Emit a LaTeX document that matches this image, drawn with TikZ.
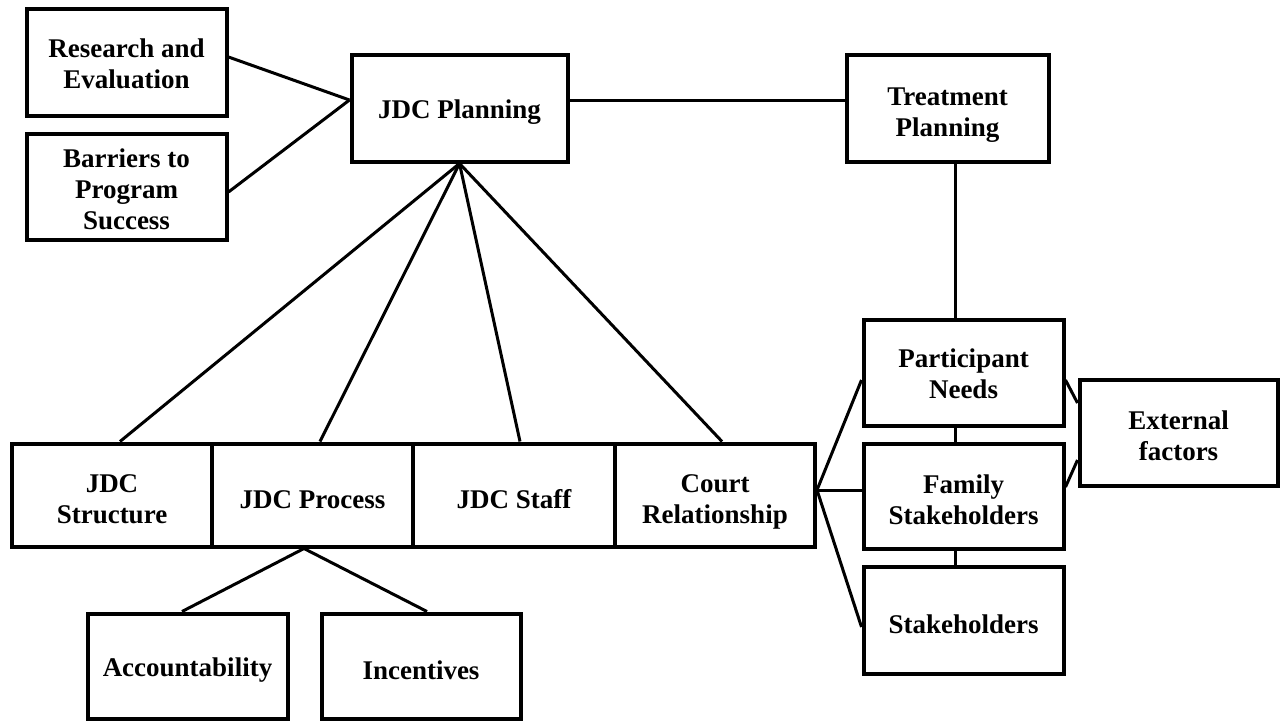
\documentclass[tikz,border=0pt]{standalone}
\usepackage{fontspec}
\setmainfont{Liberation Serif}
\newcommand\mylift[1]{\rule{0pt}{#1pt}}
\begin{document}
\begin{tikzpicture}[x=1pt,y=-1pt,
  box/.style={draw, line width=4pt, rectangle, align=center, inner sep=0pt,
    font=\bfseries\fontsize{27}{31}\selectfont},
  conn/.style={line width=3pt}]
\useasboundingbox (0,0) rectangle (1281,721);
% top-left group
\node[box, minimum width=200, minimum height=107] (re) at (126.5,62) {\mylift{23}Research and\\Evaluation};
\node[box, minimum width=200, minimum height=106] (bar) at (126.5,186.5) {\mylift{25}Barriers to\\Program\\Success};
\node[box, minimum width=216, minimum height=107] (plan) at (459.5,108) {\mylift{27}JDC Planning};
\node[box, minimum width=202, minimum height=107] (tp) at (947.5,108) {\mylift{31}Treatment\\Planning};
% right column
\node[box, minimum width=200, minimum height=106] (pn) at (963.5,372.5) {\mylift{22}Participant\\Needs};
\node[box, minimum width=200, minimum height=105] (fs) at (963.5,496) {\mylift{26}Family\\Stakeholders};
\node[box, minimum width=200, minimum height=107] (sh) at (963.5,620) {\mylift{27}Stakeholders};
\node[box, minimum width=198, minimum height=106] (ef) at (1178.5,432.5) {\mylift{26}External\\factors};
% row
\node[box, minimum width=200, minimum height=103] (struct) at (112,495) {\mylift{27}JDC\\Structure};
\node[box, minimum width=201, minimum height=103] (proc) at (312.5,495) {\mylift{27}JDC Process};
\node[box, minimum width=202, minimum height=103] (staff) at (514,495) {\mylift{27}JDC Staff};
\node[box, minimum width=200, minimum height=103] (court) at (715,495) {\mylift{32}Court\\Relationship};
% bottom
\node[box, minimum width=200, minimum height=105] (acc) at (187.5,666) {\mylift{27}Accountability};
\node[box, minimum width=199, minimum height=105] (inc) at (421,666) {\mylift{27}Incentives};
% connectors
\draw[conn] ([yshift=5pt]re.east) -- ([yshift=8pt]plan.west);
\draw[conn] ([yshift=-5.5pt]bar.east) -- ([yshift=8pt]plan.west);
\draw[conn] ([yshift=8pt]plan.east) -- ([yshift=8pt]tp.west);
\draw[conn] (plan.south) -- ([xshift=8pt]struct.north);
\draw[conn] (plan.south) -- ([xshift=7.5pt]proc.north);
\draw[conn] (plan.south) -- ([xshift=6pt]staff.north);
\draw[conn] (plan.south) -- ([xshift=7pt]court.north);
\draw[conn] ([xshift=-8.5pt]proc.south) -- ([xshift=-5.5pt]acc.north);
\draw[conn] ([xshift=-8.5pt]proc.south) -- ([xshift=6pt]inc.north);
\draw[conn] ([xshift=7.5pt]tp.south) -- ([xshift=-8.5pt]pn.north);
\draw[conn] ([xshift=-8.5pt]pn.south) -- ([xshift=-8.5pt]fs.north);
\draw[conn] ([xshift=-8.5pt]fs.south) -- ([xshift=-8.5pt]sh.north);
\draw[conn] ([yshift=5pt]court.east) -- ([yshift=-7.5pt]pn.west);
\draw[conn] ([yshift=5pt]court.east) -- ([yshift=6pt]fs.west);
\draw[conn] ([yshift=5pt]court.east) -- ([yshift=-7pt]sh.west);
\draw[conn] ([yshift=-7.5pt]pn.east) -- ([yshift=29.5pt]ef.west);
\draw[conn] ([yshift=9pt]fs.east) -- ([yshift=-27.5pt]ef.west);
\end{tikzpicture}
\end{document}
